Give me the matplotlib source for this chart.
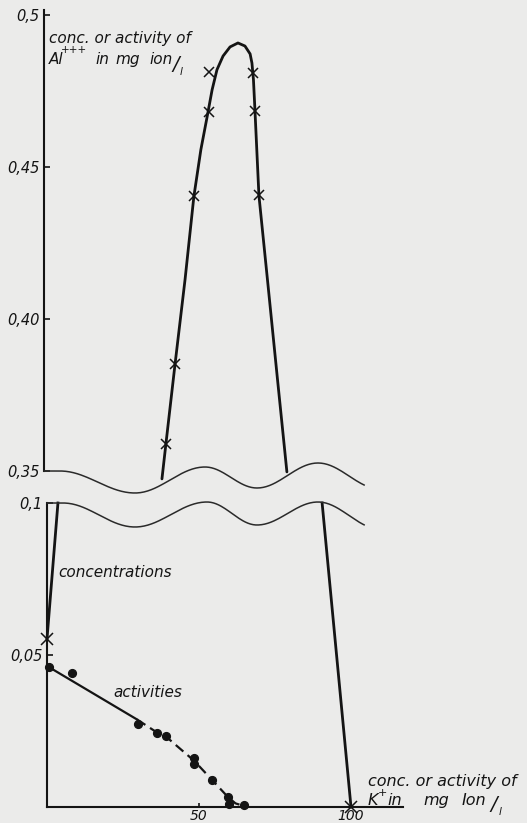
import numpy as np
import matplotlib
matplotlib.use("Agg")
import matplotlib.pyplot as plt
import matplotlib.transforms as mtransforms

# ---- data -------------------------------------------------------------
# Al+++ concentration (mg ion/l) against K+ concentration, upper range
al_curve_k = [38.8, 40.1, 43.1, 46.4, 49.3, 51.6, 53.6, 55.3, 56.9, 58.9,
              61.2, 63.8, 66.1, 67.8, 68.4, 68.9, 69.4, 70.7, 73.5, 76.8, 79.9]
al_curve_c = [0.3474, 0.3589, 0.3851, 0.4130, 0.4403, 0.4557, 0.4662, 0.4754,
              0.4820, 0.4865, 0.4895, 0.4908, 0.4898, 0.4872, 0.4842, 0.4787,
              0.4685, 0.4406, 0.4130, 0.3802, 0.3497]
al_marks_k = [54.3, 54.3, 49.3, 43.1, 40.1, 68.8, 69.4, 70.7]
al_marks_c = [0.4813, 0.4682, 0.4403, 0.3851, 0.3589, 0.4810, 0.4685, 0.4409]

# lower range: concentration branches
conc_left_k = [3.6, 0.0]
conc_left_c = [0.100, 0.0553]
conc_right_k = [90.5, 100.0]
conc_right_c = [0.100, 0.0]
conc_marks_k = [0.0, 100.0]
conc_marks_c = [0.0553, 0.0]

# activities
act_k = [0.66, 8.2, 29.9, 36.2, 39.1, 48.4, 48.4, 54.3, 59.5, 59.9, 64.8]
act_a = [0.0460, 0.0440, 0.0272, 0.0245, 0.0232, 0.0162, 0.0142, 0.0089,
         0.0033, 0.0010, 0.0007]
act_solid_k = [0.66, 29.6]
act_solid_a = [0.0460, 0.0288]
act_dash_k = [29.6, 36.2, 39.1, 48.4, 54.3, 59.5, 62.0, 64.8]
act_dash_a = [0.0288, 0.0245, 0.0232, 0.0152, 0.0089, 0.0033, 0.0012, 0.0003]

upper_ticks = [0.35, 0.40, 0.45, 0.50]
upper_labels = ["0,35", "0,40", "0,45", "0,5"]
lower_ticks = [0.05, 0.10]
lower_labels = ["0,05", "0,1"]
x_ticks = [50, 100]
x_labels = ["50", "100"]

# ---- figure -----------------------------------------------------------
W, H = 527, 823
BG = "#ebebea"
INK = "#141414"
FONT = dict(family="DejaVu Sans", style="oblique", color=INK)

fig = plt.figure(figsize=(W / 100, H / 100), dpi=100, facecolor=BG)
px = mtransforms.Affine2D().scale(1 / W, -1 / H).translate(0, 1) + fig.transFigure

XS = 3.04            # pixels per K+ unit
YS = 3040.0          # pixels per concentration unit
XMAX = 120

def add_axes(left_px, top_px, ylo, yhi):
    h = (yhi - ylo) * YS
    ax = fig.add_axes([left_px / W, (H - top_px - h) / H, XMAX * XS / W, h / H])
    ax.set_xlim(0, XMAX)
    ax.set_ylim(ylo, yhi)
    ax.patch.set_alpha(0)
    for s in ("top", "right"):
        ax.spines[s].set_visible(False)
    for s in ("left", "bottom"):
        ax.spines[s].set_color(INK)
        ax.spines[s].set_linewidth(1.5)
    ax.tick_params(direction="in", length=4, width=1.2, color=INK, pad=3,
                   labelsize=10.5, labelcolor=INK)
    return ax

# upper panel (0.35 ... 0.5)
ax_u = add_axes(44, 15 - 0.002 * YS, 0.34, 0.502)
ax_u.spines["bottom"].set_visible(False)
ax_u.spines["left"].set_bounds(0.35, 0.5015)
ax_u.set_xticks([])
ax_u.set_yticks(upper_ticks)
ax_u.set_yticklabels(upper_labels, fontstyle="oblique")

ax_u.plot(al_curve_k, al_curve_c, color=INK, lw=2.0, solid_capstyle="round",
          solid_joinstyle="round", clip_on=False)
ax_u.plot(al_marks_k, al_marks_c, ls="none", marker="x", ms=7, mew=1.1,
          color=INK, clip_on=False)

# lower panel (0 ... 0.1)
ax_l = add_axes(47, 503, 0.0, 0.1)
ax_l.spines["left"].set_bounds(0.0, 0.1)
ax_l.spines["bottom"].set_bounds(0, 117)
ax_l.set_yticks(lower_ticks)
ax_l.set_yticklabels(lower_labels, fontstyle="oblique")
ax_l.set_xticks(x_ticks)
ax_l.set_xticklabels(x_labels, fontstyle="oblique")
ax_l.tick_params(axis="x", length=3, pad=1.5, labelsize=10)

ax_l.plot(conc_left_k, conc_left_c, color=INK, lw=2.0, clip_on=False)
ax_l.plot(conc_right_k, conc_right_c, color=INK, lw=2.0, clip_on=False)
ax_l.plot(conc_marks_k, conc_marks_c, ls="none", marker="x", ms=8, mew=1.1,
          color=INK, clip_on=False)
ax_l.plot(act_solid_k, act_solid_a, color=INK, lw=1.6)
ax_l.plot(act_dash_k, act_dash_a, color=INK, lw=1.6, ls=(0, (4.5, 2.5)),
          clip_on=False)
ax_l.plot(act_k, act_a, ls="none", marker="o", ms=5.6, color=INK,
          clip_on=False)

# ---- broken-axis waves --------------------------------------------------
def wave(points, x_end):
    xs, ys = [], []
    for (x0, y0), (x1, y1) in zip(points[:-1], points[1:]):
        t = np.linspace(0, 1, 40)
        xs.append(x0 + (x1 - x0) * t)
        ys.append(y0 + (y1 - y0) * (1 - np.cos(np.pi * t)) / 2)
    xs = np.concatenate(xs)
    ys = np.concatenate(ys)
    keep = xs <= x_end
    return xs[keep], ys[keep]

upper_wave = [(44, 471), (60, 471), (135, 493), (205, 467), (257, 488),
              (318, 463), (380, 489)]
lower_wave = [(47, 503), (63, 503), (135, 527), (207, 502), (257, 525),
              (318, 502), (380, 529)]
for pts in (upper_wave, lower_wave):
    wx, wy = wave(pts, 365)
    fig.add_artist(plt.Line2D(wx, wy, transform=px, color="#2a2a2a", lw=1.1))

# ---- annotations --------------------------------------------------------
def label(x, y, s, size=11, **kw):
    fig.text(x, y, s, transform=px, fontsize=size, va="baseline", **FONT, **kw)

# y-axis title (Al+++)
label(49, 43, "conc. or activity of")
label(49, 64, "Al")
label(61, 53, "+++", size=7.5)
label(95, 64, "in")
label(115, 64, "mg")
label(149, 64, "ion")
label(172, 70, "/", size=14)
label(180, 75, "l", size=7.5)

label(58, 577, "concentrations")
label(113, 697, "activities")

# x-axis title (K+)
label(368, 786, "conc. or activity of", size=11.5)
label(368, 805, "K", size=11.5)
label(378, 796, "+", size=8)
label(387, 805, "in", size=11.5)
label(423, 805, "mg", size=11.5)
label(462, 805, "Ion", size=11.5)
label(490, 810, "/", size=14)
label(499, 815, "l", size=7.5)

fig.savefig("out.png", dpi=100, facecolor=BG)
